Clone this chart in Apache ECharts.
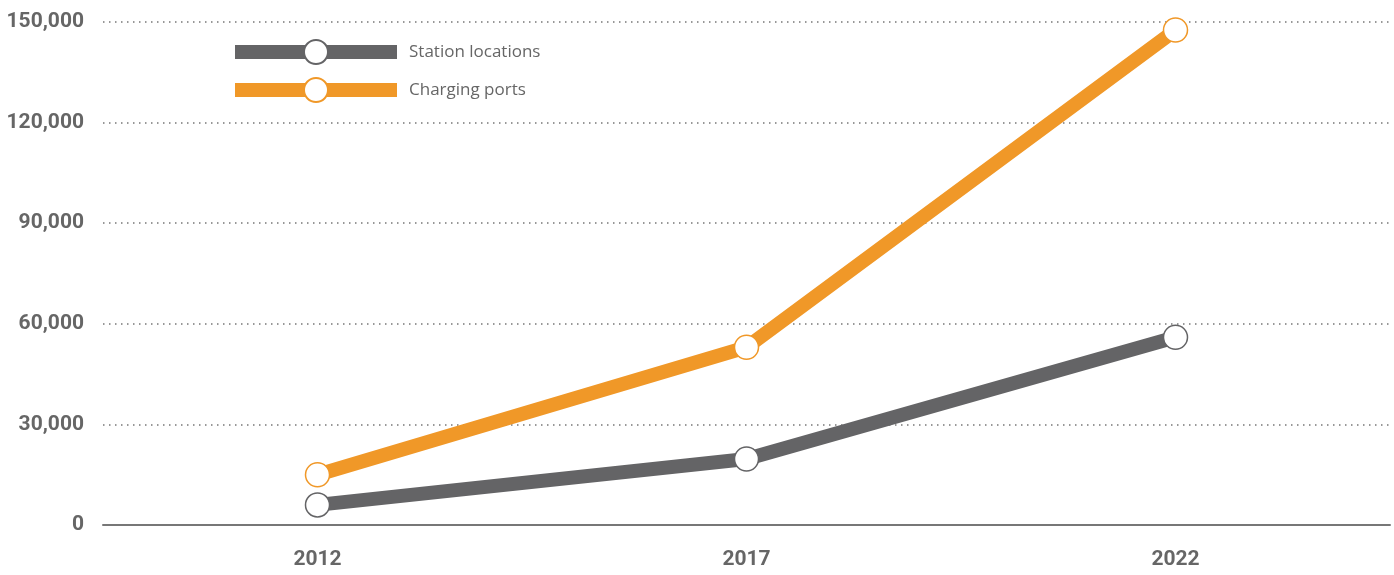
<!DOCTYPE html>
<html>
<head>
<meta charset="utf-8">
<script src="https://cdn.jsdelivr.net/npm/echarts@6/dist/echarts.min.js"></script>
<style>
  html, body { margin: 0; padding: 0; background: #fff; }
  #main { width: 1394px; height: 575px; }
</style>
</head>
<body>
<div id="main"></div>
<script>
// values
var years = ['2012', '2017', '2022'];
var stationLocations = [6000, 19700, 56000];
var chargingPorts = [15000, 53000, 147600];
var seriesNames = ['Station locations', 'Charging ports'];

var grey = '#646466';
var orange = '#F09828';
var axisFont = 'Roboto, sans-serif';

function makeSeries(name, data, color) {
  return {
    name: name,
    type: 'line',
    data: data,
    symbol: 'circle',
    symbolSize: 24,
    lineStyle: { width: 14, color: color, cap: 'butt' },
    itemStyle: { color: '#fff', borderColor: color, borderWidth: 1.5 },
    emphasis: { disabled: true }
  };
}

var myChart = echarts.init(document.getElementById('main'));
myChart.setOption({
  animation: false,
  grid: { left: 103, right: 4, top: 22, bottom: 50, outerBoundsMode: 'none' },
  legend: {
    orient: 'vertical',
    left: 223,
    top: 34,
    itemWidth: 162,
    itemHeight: 30,
    itemGap: 12,
    lineStyle: { width: 14 },
    textStyle: { color: '#666', fontSize: 17, fontFamily: '"Open Sans", sans-serif', padding: [0, 0, 0, 7] },
    data: seriesNames
  },
  xAxis: {
    type: 'category',
    data: years,
    boundaryGap: true,
    axisLine: { lineStyle: { color: '#777', width: 2 } },
    axisTick: { show: false },
    axisLabel: { color: '#666', fontSize: 21, fontWeight: 'bold', fontFamily: axisFont, margin: 24 }
  },
  yAxis: {
    type: 'value',
    min: 0,
    max: 150000,
    interval: 30000,
    axisLine: { show: false },
    axisTick: { show: false },
    axisLabel: {
      color: '#666', fontSize: 21, fontWeight: 'bold', fontFamily: axisFont, margin: 19,
      formatter: function (v) { return v.toLocaleString('en-US'); }
    },
    splitLine: { lineStyle: { color: '#777', width: 1.5, type: [1.5, 4.5] } }
  },
  series: [
    makeSeries(seriesNames[0], stationLocations, grey),
    makeSeries(seriesNames[1], chargingPorts, orange)
  ]
});
</script>
</body>
</html>
